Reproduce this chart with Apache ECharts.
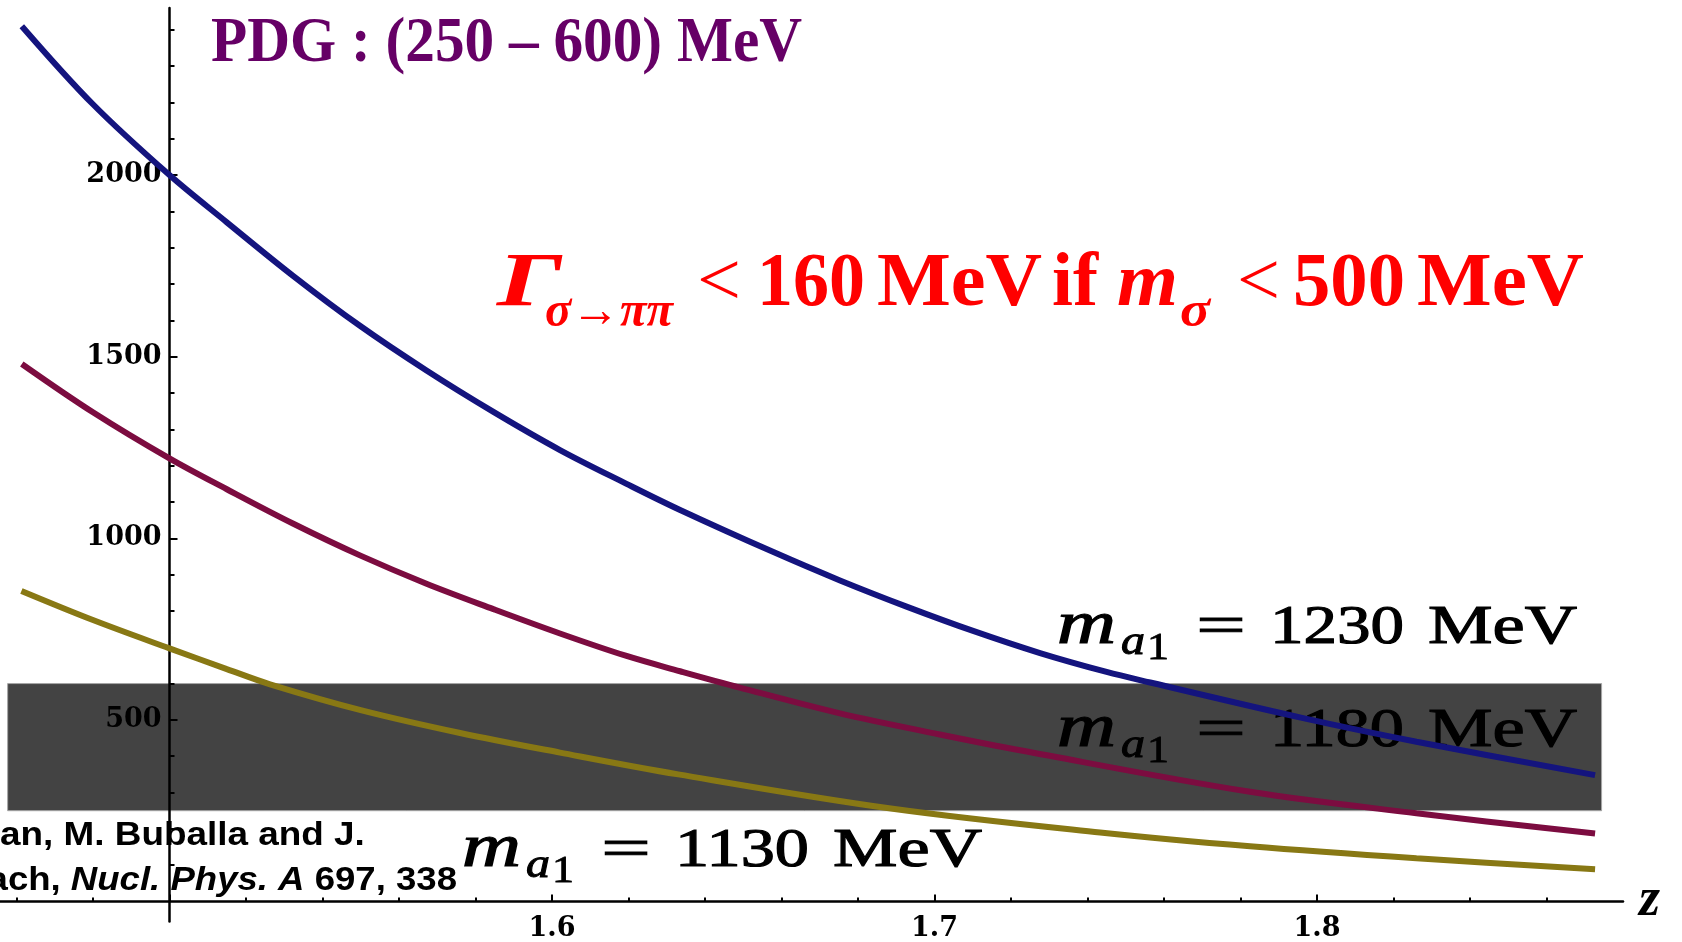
<!DOCTYPE html>
<html>
<head>
<meta charset="utf-8">
<script src="https://cdn.jsdelivr.net/npm/echarts@6/dist/echarts.min.js"></script>
<style>
html,body{margin:0;padding:0;background:#ffffff;}
#chart{width:1682px;height:942px;}
</style>
</head>
<body>
<div id="chart"></div>
<script>
// ---------------- data ----------------
const blueZ = [1.4614, 1.48, 1.50, 1.515, 1.5324, 1.5498, 1.5672, 1.5847, 1.6021, 1.6195, 1.6335, 1.6579, 1.6753, 1.6927, 1.7101, 1.7276, 1.745, 1.7564, 1.7955, 1.826, 1.8727];
const blueV = [2410, 2195, 2000, 1870, 1722, 1585, 1462, 1348, 1243, 1150, 1078, 962, 884, 812, 745, 684, 632, 603, 507, 440, 348];

const redZ = [1.4614, 1.48, 1.50, 1.515, 1.5324, 1.5498, 1.5672, 1.5847, 1.6021, 1.6195, 1.6335, 1.6491, 1.6753, 1.7014, 1.7231, 1.7825, 1.826, 1.8727];
const redV = [1480, 1347, 1220, 1135, 1040, 953, 875, 805, 738, 676, 634, 589, 518, 460, 415, 302, 243, 187];

const yellowZ = [1.4613, 1.48, 1.50, 1.515, 1.5263, 1.55, 1.576, 1.6021, 1.633, 1.6886, 1.7433, 1.7825, 1.826, 1.8727];
const yellowV = [855, 775, 697, 640, 598, 527, 464, 410, 350, 256, 190, 152, 119, 89];

const bandZ = [1.4577, 1.8744];      // PDG band extent in z
const bandV = [250, 600];            // PDG : (250 - 600) MeV

const xLabelVals = [1.6, 1.7, 1.8];
const xTickVals = [1.5, 1.6, 1.7, 1.8];
const yLabelVals = [500, 1000, 1500, 2000];

const curveLabels = ['1230', '1180', '1130'];

// ---------------- helpers ----------------
const mctx = document.createElement('canvas').getContext('2d');
function measure(t, font) { mctx.font = font; return mctx.measureText(t).width; }
function sizeOf(font) { const m = font.match(/([\d.]+)px/); return m ? parseFloat(m[1]) : 20; }
function fitted(t, font, left, right, base, color, z, strokeW) {
  const w = measure(t, font);
  const size = sizeOf(font);
  const style = { text: t, font: font, fill: color, align: 'left', verticalAlign: 'middle' };
  if (strokeW) { style.stroke = color; style.lineWidth = strokeW; }
  return { type: 'text', x: left, y: base - 0.34 * size, scaleX: (right - left) / w, z: z, silent: true, style: style };
}
function seq(pieces, left, base, s, z, alignRight) {
  let total = 0;
  pieces.forEach(p => { p.w = measure(p.t, p.font); total += p.w * s; });
  let x = alignRight ? left - total : left;
  const out = [];
  pieces.forEach(p => {
    const size = sizeOf(p.font);
    out.push({ type: 'text', x: x, y: base + (p.dy || 0) - 0.34 * size, scaleX: s, z: z, silent: true,
               style: { text: p.t, font: p.font, fill: p.color || '#000', align: 'left', verticalAlign: 'middle' } });
    x += p.w * s;
  });
  return out;
}
const SERIF = '"Liberation Serif", "DejaVu Serif", serif';
const SANS = '"Liberation Sans", Arial, sans-serif';

function maLabel(value, dx, dy, z) {
  const b = 647.5 + dy;
  return [
    fitted('m', 'italic 62px ' + SERIF, 1057 + dx, 1116 + dx, b, '#000', z, 1.2),
    fitted('a', 'italic 41px ' + SERIF, 1121 + dx, 1145 + dx, b + 10, '#000', z, 1),
    fitted('1', '38px ' + SERIF, 1147 + dx, 1169 + dx, b + 14, '#000', z, 0.8),
    fitted('=', '54px ' + SERIF, 1196 + dx, 1246 + dx, b, '#000', z, 0.8),
    fitted(value, '54px ' + SERIF, 1270 + dx, 1404 + dx, b, '#000', z, 1.1),
    fitted('MeV', '54px ' + SERIF, 1428 + dx, 1577 + dx, b, '#000', z, 1.1)
  ];
}

const RED = '#ff0000';
const RB = 311;   // red text baseline
const redText = [
  fitted('Γ', 'italic bold 76px ' + SERIF, 497, 562, RB, RED, 6),
  fitted('σ→ππ', 'italic bold 50px ' + SERIF, 545, 673, RB + 19, RED, 6),
  fitted('<', '76px ' + SERIF, 697, 741, RB, RED, 6),
  fitted('160', 'bold 76px ' + SERIF, 757, 865, RB, RED, 6),
  fitted('MeV', 'bold 76px ' + SERIF, 877, 1042, RB, RED, 6),
  fitted('if', 'bold 76px ' + SERIF, 1052, 1098, RB, RED, 6),
  fitted('m', 'italic bold 76px ' + SERIF, 1117, 1178, RB, RED, 6),
  fitted('σ', 'italic bold 50px ' + SERIF, 1180, 1210, RB + 19, RED, 6),
  fitted('<', '76px ' + SERIF, 1237, 1280, RB, RED, 6),
  fitted('500', 'bold 76px ' + SERIF, 1293, 1405, RB, RED, 6),
  fitted('MeV', 'bold 76px ' + SERIF, 1417, 1584, RB, RED, 6)
];

const pdgText = [fitted('PDG : (250 – 600) MeV', 'bold 63px ' + SERIF, 211, 802, 66, '#660066', 6)];

const citeFontB = 'bold 32.5px ' + SANS;
const citeFontBI = 'italic bold 32.5px ' + SANS;
const citation = [].concat(
  seq([{ t: 'an, M. Buballa and J.', font: citeFontB }], 0, 847, 1.135, 6, false),
  seq([{ t: 'ach, ', font: citeFontB }, { t: 'Nucl. Phys. A', font: citeFontBI }, { t: ' 697, 338', font: citeFontB }], 457, 892, 1.125, 6, true)
);

const labels = [].concat(
  maLabel(curveLabels[0], 0, 0, 6),
  maLabel(curveLabels[1], 0, 103, 4),
  maLabel(curveLabels[2], -595, 223, 6)
);

function pairs(zs, vs) { return zs.map((z, i) => [z, vs[i]]); }

const tickFont = { fontFamily: '"DejaVu Serif", serif', fontWeight: 'bold', fontSize: 27, color: '#000' };
const near = (v, arr) => arr.some(a => Math.abs(a - v) < 1e-6);

const option = {
  animation: false,
  backgroundColor: '#ffffff',
  grid: { left: 0, right: 59, top: 8, bottom: 20.5, containLabel: false, outerBoundsMode: 'none' },
  xAxis: {
    type: 'value', min: 1.4557, max: 1.88, splitNumber: 4, z: 3,
    name: 'z', nameLocation: 'end', nameGap: 16,
    nameTextStyle: { fontFamily: SERIF, fontStyle: 'italic', fontWeight: 'bold', fontSize: 54, color: '#000', verticalAlign: 'middle', padding: [0, 0, 12, 0] },
    axisLine: { onZero: true, lineStyle: { color: '#000', width: 2.5 } },
    axisTick: { show: true, inside: true, length: 7, customValues: xTickVals, lineStyle: { color: '#000', width: 2 } },
    minorTick: { show: true, splitNumber: 5, length: 4, lineStyle: { color: '#000', width: 2 } },
    axisLabel: Object.assign({ customValues: xLabelVals, margin: -6.5,
      formatter: v => near(v, xLabelVals) ? v.toFixed(1) : '' }, tickFont),
    splitLine: { show: false }
  },
  yAxis: {
    type: 'value', min: -55, max: 2460, splitNumber: 5, z: 3, offset: -169.5,
    axisLine: { onZero: false, lineStyle: { color: '#000', width: 2.5 } },
    axisTick: { show: true, inside: true, length: 8, customValues: yLabelVals, lineStyle: { color: '#000', width: 2 } },
    minorTick: { show: true, splitNumber: 5, length: 5, lineStyle: { color: '#000', width: 2 } },
    axisLabel: Object.assign({ customValues: yLabelVals, margin: 8, padding: [6, 0, 0, 0],
      formatter: v => near(v, yLabelVals) ? String(Math.round(v)) : '' }, tickFont),
    splitLine: { show: false }
  },
  series: [
    {
      type: 'custom', z: 1, silent: true,
      data: [[bandZ[0], bandZ[1], bandV[0], bandV[1]]],
      encode: { x: [0, 1], y: [2, 3] },
      renderItem: function (params, api) {
        const p0 = api.coord([api.value(0), api.value(3)]);
        const p1 = api.coord([api.value(1), api.value(2)]);
        return { type: 'rect', shape: { x: p0[0], y: p0[1], width: p1[0] - p0[0], height: p1[1] - p0[1] },
                 style: { fill: '#434343', stroke: '#a6a6a6', lineWidth: 1 } };
      }
    },
    { type: 'line', name: 'm_a1 = 1230 MeV', data: pairs(blueZ, blueV), showSymbol: false, smooth: 0.35, z: 5,
      lineStyle: { color: '#14147e', width: 6 } },
    { type: 'line', name: 'm_a1 = 1180 MeV', data: pairs(redZ, redV), showSymbol: false, smooth: 0.35, z: 5,
      lineStyle: { color: '#7c0c40', width: 6 } },
    { type: 'line', name: 'm_a1 = 1130 MeV', data: pairs(yellowZ, yellowV), showSymbol: false, smooth: 0.35, z: 5,
      lineStyle: { color: '#887814', width: 6 } }
  ],
  graphic: { elements: [].concat(pdgText, redText, labels, citation) }
};

const chart = echarts.init(document.getElementById('chart'), null, { renderer: 'canvas' });
chart.setOption(option);
</script>
</body>
</html>
